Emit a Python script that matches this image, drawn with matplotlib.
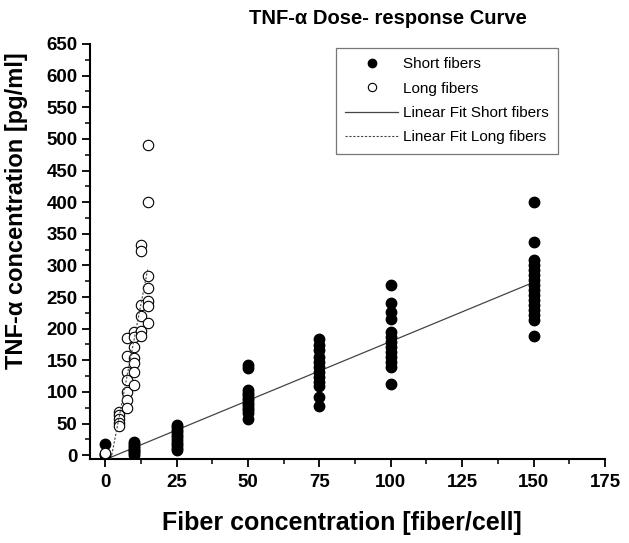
import matplotlib
matplotlib.use("Agg")
from matplotlib import pyplot as plt
from matplotlib.ticker import MultipleLocator
import numpy as np

plt.rcParams['font.family'] = ['Liberation Sans', 'DejaVu Sans']

# short fibers: dose -> TNF-a readings
short_x = [0, 10, 25, 50, 75, 100, 150]
short_y = [
    [18, 2, 0],
    [21, 18, 15, 12, 9, 6, 3, 1],
    [48, 44, 40, 36, 32, 28, 24, 20, 16, 12, 8],
    [142, 138, 103, 99, 95, 91, 87, 83, 79, 75, 71, 66, 58],
    [183, 174, 166, 156, 148, 140, 132, 124, 116, 110, 92, 78],
    [269, 240, 227, 216, 195, 187, 179, 171, 163, 156, 148, 139, 112],
    [400, 337, 309, 301, 293, 285, 277, 269, 261, 253, 245, 237, 229, 222, 214, 189],
]

# long fibers
long_x = [0, 5, 7.5, 10, 12.5, 15]
long_y = [
    [3],
    [69, 63, 57, 51, 46],
    [185, 157, 132, 119, 100, 87, 75],
    [195, 187, 171, 153, 145, 132, 111],
    [333, 323, 238, 220, 196, 189],
    [490, 401, 284, 265, 243, 236, 209],
]

def flatten(xs, ys):
    fx, fy = [], []
    for x, vals in zip(xs, ys):
        fx += [x] * len(vals)
        fy += vals
    return np.array(fx, float), np.array(fy, float)

sx, sy = flatten(short_x, short_y)
lx, ly = flatten(long_x, long_y)

fig = plt.figure(figsize=(6.29, 5.43), dpi=100)
ax = fig.add_axes([90/629, 1 - 459/543, (605-90)/629, (459-44)/543])

ax.plot(sx, sy, 'o', color='black', markersize=7.5, label='Short fibers', zorder=3)
ax.plot(lx, ly, 'o', markerfacecolor='white', markeredgecolor='black',
        markeredgewidth=0.8, markersize=7.5, label='Long fibers', zorder=4)

# linear fits
ps = np.polyfit(sx, sy, 1)
xs_fit = np.array([0, 150])
ax.plot(xs_fit, np.polyval(ps, xs_fit), '-', color='#444444', lw=0.9,
        label='Linear Fit Short fibers', zorder=2)
pl = np.polyfit(lx, ly, 1)
xl_fit = np.array([0, 15])
ax.plot(xl_fit, np.polyval(pl, xl_fit), '--', color='#444444', lw=0.8,
        dashes=(2, 1.5), label='Linear Fit Long fibers', zorder=5)

ax.set_xlim(-5.3, 175)
ax.set_ylim(-6, 650)
ax.spines['top'].set_visible(False)
ax.spines['right'].set_visible(False)
ax.spines['left'].set_linewidth(1.5)
ax.spines['bottom'].set_linewidth(1.5)

ax.xaxis.set_major_locator(MultipleLocator(25))
ax.xaxis.set_minor_locator(MultipleLocator(12.5))
ax.yaxis.set_major_locator(MultipleLocator(50))
ax.yaxis.set_minor_locator(MultipleLocator(25))
ax.tick_params(which='major', direction='out', length=6, width=1.3, labelsize=13.5)
ax.tick_params(which='minor', direction='out', length=3.5, width=1.1)
for lab in ax.get_xticklabels() + ax.get_yticklabels():
    lab.set_fontweight('bold')
ax.tick_params(axis='x', pad=5)
ax.tick_params(axis='y', pad=3)

ax.set_xlabel('Fiber concentration [fiber/cell]', fontsize=18, fontweight='bold')
ax.xaxis.set_label_coords(0.49, -0.125)
ax.set_ylabel('TNF-α concentration [pg/ml]', fontsize=17, fontweight='bold')
ax.yaxis.set_label_coords(-0.12, 0.598)
fig.text(388/629, 1 - 18/543, 'TNF-α Dose- response Curve', fontsize=14.5,
         fontweight='bold', ha='center', va='center')

leg = ax.legend(loc='upper left', bbox_to_anchor=((336-90)/515, 1 - (48-44)/415),
                fontsize=11, frameon=True, fancybox=False, edgecolor='#555555',
                handlelength=3.45, markerscale=0.8, borderpad=0.6, labelspacing=0.68,
                handletextpad=0.35, borderaxespad=0)
leg.get_frame().set_linewidth(0.9)

fig.savefig('out.png', dpi=100)
